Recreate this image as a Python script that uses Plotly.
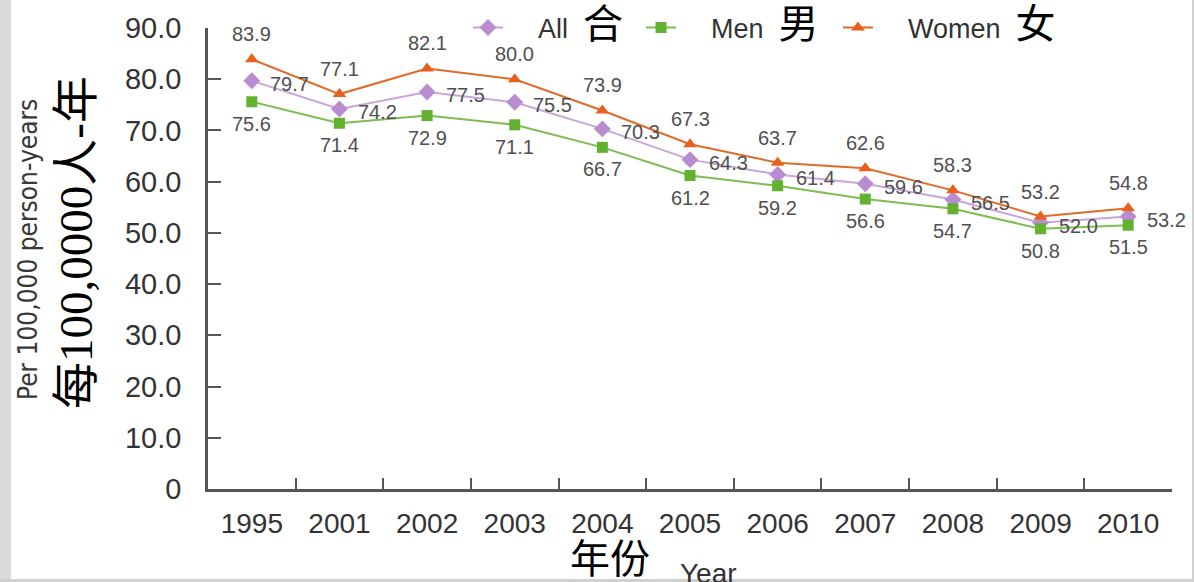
import plotly.graph_objects as go

years = ["1995", "2001", "2002", "2003", "2004", "2005", "2006", "2007", "2008", "2009", "2010"]
all_vals = [79.7, 74.2, 77.5, 75.5, 70.3, 64.3, 61.4, 59.6, 56.5, 52.0, 53.2]
men_vals = [75.6, 71.4, 72.9, 71.1, 66.7, 61.2, 59.2, 56.6, 54.7, 50.8, 51.5]
women_vals = [83.9, 77.1, 82.1, 80.0, 73.9, 67.3, 63.7, 62.6, 58.3, 53.2, 54.8]
y_tickvals = [0, 10, 20, 30, 40, 50, 60, 70, 80, 90]
y_ticktext = ["0", "10.0", "20.0", "30.0", "40.0", "50.0", "60.0", "70.0", "80.0", "90.0"]

CJK = "Liberation Serif, DejaVu Serif, Noto Sans CJK SC, serif"
LAT = "Liberation Sans, Arial, sans-serif"

def leg(name, cn):
    return (f"&nbsp;&nbsp;&nbsp;&nbsp;{name}&nbsp; <span style='font-family:{CJK};font-size:40px;color:black'>{cn}</span>")

fig = go.Figure()
fig.add_trace(go.Scatter(x=years, y=all_vals, mode="lines+markers", name=leg("All", "合"),
                         line=dict(color="#c8a5dc", width=2), legend="legend",
                         marker=dict(symbol="diamond", size=13, color="#b98bd0")))
fig.add_trace(go.Scatter(x=years, y=men_vals, mode="lines+markers", name=leg("Men", "男"),
                         line=dict(color="#7cbd52", width=2), legend="legend2",
                         marker=dict(symbol="square", size=11, color="#62b22f")))
fig.add_trace(go.Scatter(x=years, y=women_vals, mode="lines+markers", name=leg("Women", "女"),
                         line=dict(color="#e06a2a", width=2), legend="legend3",
                         marker=dict(symbol="triangle-up", size=12, color="#e8601c")))

ann = []
lab_font = dict(family=LAT, size=20, color="#505050")
for i, v in enumerate(women_vals):
    ann.append(dict(x=i, y=v, text=f"{v:.1f}", showarrow=False, yshift=25, font=lab_font))
for i, v in enumerate(all_vals):
    ann.append(dict(x=i, y=v, text=f"{v:.1f}", showarrow=False, xshift=38, yshift=-3, font=lab_font))
for i, v in enumerate(men_vals):
    ann.append(dict(x=i, y=v, text=f"{v:.1f}", showarrow=False, yshift=-22, font=lab_font))

W, H, L, R, T, B = 1194, 582, 208, 22, 28, 93
pw, ph = W - L - R, H - T - B
def px(x):
    return (x - L) / pw
def py(y):
    return (H - B - y) / ph

# axis titles
ann.append(dict(xref="paper", yref="paper", x=px(28), y=py(250), text="Per 100,000 person-years",
                textangle=-90, showarrow=False, xanchor="center", yanchor="middle",
                font=dict(family="Liberation Sans Narrow, DejaVu Sans Condensed, sans-serif", size=26, color="#383838")))
ann.append(dict(xref="paper", yref="paper", x=px(76), y=py(243), text="每100,0000人-年",
                textangle=-90, showarrow=False, xanchor="center", yanchor="middle",
                font=dict(family=CJK, size=47, color="black")))
ann.append(dict(xref="paper", yref="paper", x=px(610), y=py(559), text="年份", showarrow=False,
                xanchor="center", yanchor="middle",
                font=dict(family=CJK, size=40, color="black")))
ann.append(dict(xref="paper", yref="paper", x=px(708), y=py(573), text="Year", showarrow=False,
                xanchor="center", yanchor="middle",
                font=dict(family=LAT, size=28, color="#333333")))

shapes = [
    dict(type="rect", xref="paper", yref="paper", x0=px(0), x1=px(11), y0=py(582), y1=py(0),
         fillcolor="#dadada", line=dict(width=0), layer="below"),
    dict(type="rect", xref="paper", yref="paper", x0=px(1192), x1=px(1194), y0=py(582), y1=py(0),
         fillcolor="#d0d0d0", line=dict(width=0), layer="below"),
    dict(type="rect", xref="paper", yref="paper", x0=px(0), x1=px(1194), y0=py(582), y1=py(579),
         fillcolor="#d0d0d0", line=dict(width=0), layer="below"),
]

legstyle = dict(orientation="h", xanchor="left", y=1.0, yanchor="middle",
                font=dict(family=LAT, size=27, color="#333333"), bgcolor="rgba(0,0,0,0)")

fig.update_layout(
    width=W, height=H,
    margin=dict(l=L, r=R, t=T, b=B, autoexpand=False),
    paper_bgcolor="white", plot_bgcolor="white",
    annotations=ann, shapes=shapes,
    legend=dict(x=px(468), **legstyle),
    legend2=dict(x=px(641), **legstyle),
    legend3=dict(x=px(838), **legstyle),
    showlegend=True,
)
fig.update_xaxes(type="category", categoryorder="array", categoryarray=years,
                 tickson="boundaries", ticks="inside", ticklen=11, tickwidth=2, tickcolor="#555",
                 showline=True, linecolor="#555", linewidth=2.5, showgrid=False, zeroline=False,
                 tickfont=dict(family=LAT, size=28, color="#333333"), ticklabelstandoff=8,
                 range=[-0.5, 10.5], automargin=False)
fig.update_yaxes(range=[0, 90], tickvals=y_tickvals, ticktext=y_ticktext,
                 ticks="inside", ticklen=13, tickwidth=2, tickcolor="#555",
                 showline=True, linecolor="#555", linewidth=2.5, showgrid=False, zeroline=False,
                 tickfont=dict(family=LAT, size=29, color="#333333"), ticklabelstandoff=18,
                 automargin=False)

fig.write_html("out.html", config={"displayModeBar": False},
               post_script="document.body.style.margin='0px';document.body.style.overflow='hidden';")
